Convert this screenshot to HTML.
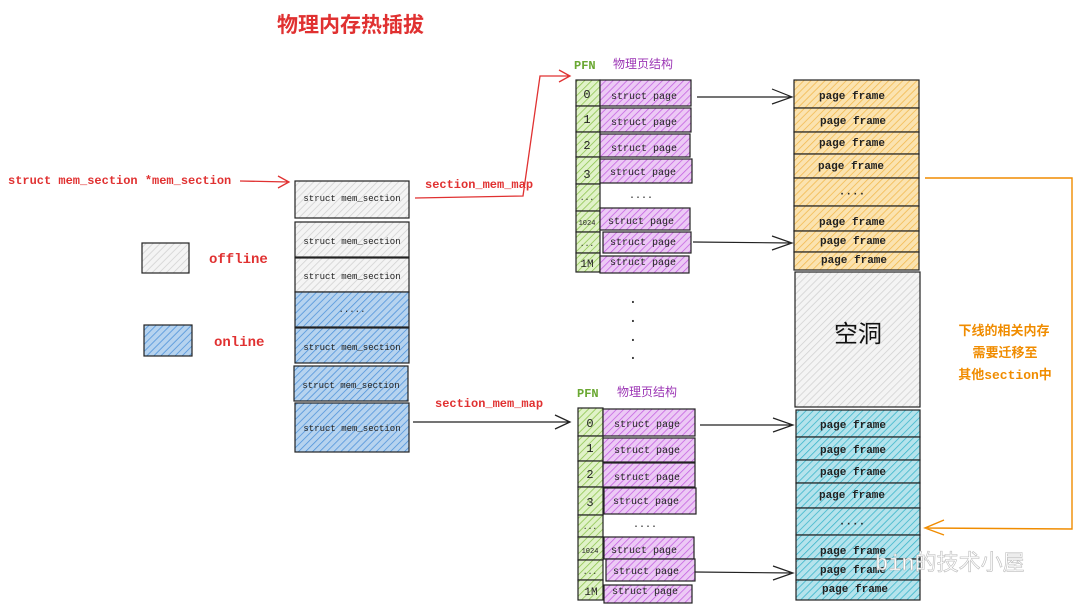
<!DOCTYPE html>
<html><head><meta charset="utf-8"><style>
html,body{margin:0;padding:0;background:#fff;width:1080px;height:611px;overflow:hidden}
svg text{font-family:"Liberation Mono","Noto Sans CJK SC",monospace}
</style></head><body>
<svg width="1080" height="611" viewBox="0 0 1080 611" xmlns="http://www.w3.org/2000/svg">
<defs>
<pattern id="hg" width="5" height="5" patternUnits="userSpaceOnUse" patternTransform="rotate(45)"><rect width="5" height="5" fill="#f4f4f4"/><line x1="0" y1="0" x2="0" y2="5" stroke="#d0d0d0" stroke-width="1.5"/></pattern>
<pattern id="hb" width="5" height="5" patternUnits="userSpaceOnUse" patternTransform="rotate(45)"><rect width="5" height="5" fill="#b6d3ef"/><line x1="0" y1="0" x2="0" y2="5" stroke="#4a90d9" stroke-width="1.5"/></pattern>
<pattern id="hgr" width="5" height="5" patternUnits="userSpaceOnUse" patternTransform="rotate(45)"><rect width="5" height="5" fill="#e0f2c8"/><line x1="0" y1="0" x2="0" y2="5" stroke="#8bc34a" stroke-width="1.5"/></pattern>
<pattern id="hp" width="5" height="5" patternUnits="userSpaceOnUse" patternTransform="rotate(45)"><rect width="5" height="5" fill="#ecc9f5"/><line x1="0" y1="0" x2="0" y2="5" stroke="#c35de0" stroke-width="1.5"/></pattern>
<pattern id="ho" width="5" height="5" patternUnits="userSpaceOnUse" patternTransform="rotate(45)"><rect width="5" height="5" fill="#fbe3b0"/><line x1="0" y1="0" x2="0" y2="5" stroke="#f2b84b" stroke-width="1.5"/></pattern>
<pattern id="hc" width="5" height="5" patternUnits="userSpaceOnUse" patternTransform="rotate(45)"><rect width="5" height="5" fill="#b5e3ec"/><line x1="0" y1="0" x2="0" y2="5" stroke="#36b3c9" stroke-width="1.5"/></pattern>
</defs>

<text x="277" y="32" font-size="21" fill="#e03131" font-weight="bold" font-family="Noto Sans CJK SC,sans-serif">物理内存热插拔</text>

<text x="8" y="184" font-size="12" font-weight="bold" fill="#e03131">struct mem_section *mem_section</text>
<g stroke="#e03131" stroke-width="1.3" fill="none"><path d="M240 181 L289 182 M278 176 L289 182 L278 188"/></g>

<g stroke="#222" stroke-width="1.2">
<rect x="295" y="181" width="114" height="37" fill="url(#hg)"/>
<rect x="295" y="222" width="114" height="35" fill="url(#hg)"/>
<rect x="295" y="258" width="114" height="34" fill="url(#hg)"/>
<rect x="295" y="292" width="114" height="35" fill="url(#hb)"/>
<rect x="295" y="328" width="114" height="35" fill="url(#hb)"/>
<rect x="294" y="366" width="114" height="35" fill="url(#hb)"/>
<rect x="295" y="403" width="114" height="49" fill="url(#hb)"/>
<rect x="142" y="243" width="47" height="30" fill="url(#hg)"/>
<rect x="144" y="325" width="48" height="31" fill="url(#hb)"/>
</g>
<g font-size="9" fill="#222" text-anchor="middle">
<text x="352" y="201">struct mem_section</text>
<text x="352" y="244">struct mem_section</text>
<text x="352" y="279">struct mem_section</text>
<text x="352" y="314">·····</text>
<text x="352" y="350">struct mem_section</text>
<text x="351" y="388">struct mem_section</text>
<text x="352" y="431">struct mem_section</text>
</g>
<text x="209" y="263" font-size="14" font-weight="bold" fill="#e03131">offline</text>
<text x="214" y="346" font-size="14" font-weight="bold" fill="#e03131">online</text>

<text x="425" y="188" font-size="12" font-weight="bold" fill="#e03131">section_mem_map</text>
<g stroke="#e03131" stroke-width="1.3" fill="none"><path d="M415 198 L523 196 L540 76 L570 76 M559 70 L570 76 L559 82"/></g>
<text x="435" y="407" font-size="12" font-weight="bold" fill="#e03131">section_mem_map</text>
<g stroke="#222" stroke-width="1.3" fill="none"><path d="M413 422 L570 422 M555 415 L570 422 L555 429"/></g>

<text x="574" y="69" font-size="12" font-weight="bold" fill="#6aa832" font-family="Liberation Sans,sans-serif">PFN</text>
<text x="613" y="68" font-size="12" fill="#9c36b5" font-family="Noto Sans CJK SC,sans-serif">物理页结构</text>
<g stroke="#222" stroke-width="1.2">
<rect x="576" y="80" width="24" height="26" fill="url(#hgr)"/><rect x="576" y="106" width="24" height="26" fill="url(#hgr)"/><rect x="576" y="132" width="24" height="25" fill="url(#hgr)"/><rect x="576" y="157" width="24" height="27" fill="url(#hgr)"/><rect x="576" y="184" width="24" height="27" fill="url(#hgr)"/><rect x="576" y="211" width="24" height="21" fill="url(#hgr)"/><rect x="576" y="232" width="24" height="21" fill="url(#hgr)"/><rect x="576" y="253" width="24" height="19" fill="url(#hgr)"/>
<rect x="600" y="80" width="91" height="26" fill="url(#hp)"/><rect x="600" y="108" width="91" height="24" fill="url(#hp)"/><rect x="600" y="134" width="90" height="23" fill="url(#hp)"/><rect x="600" y="159" width="92" height="24" fill="url(#hp)"/><rect x="600" y="208" width="90" height="22" fill="url(#hp)"/><rect x="603" y="232" width="88" height="21" fill="url(#hp)"/><rect x="600" y="256" width="89" height="17" fill="url(#hp)"/>
</g>
<g font-size="10" fill="#222" text-anchor="middle">
<text x="587" y="98" font-size="12">0</text><text x="587" y="123" font-size="12">1</text><text x="587" y="149" font-size="12">2</text><text x="587" y="178" font-size="12">3</text><text x="587" y="200" font-size="8">...</text><text x="587" y="225" font-size="7">1024</text><text x="587" y="246" font-size="8">...</text><text x="587" y="267" font-size="11">1M</text>
<text x="644" y="99">struct page</text><text x="644" y="125">struct page</text><text x="644" y="151">struct page</text><text x="643" y="175">struct page</text><text x="641" y="200">····</text><text x="641" y="224">struct page</text><text x="643" y="245">struct page</text><text x="643" y="265">struct page</text>
</g>

<g stroke="#222" stroke-width="1.2">
<rect x="794" y="80" width="125" height="28" fill="url(#ho)"/><rect x="794" y="108" width="125" height="24" fill="url(#ho)"/><rect x="794" y="132" width="125" height="22" fill="url(#ho)"/><rect x="794" y="154" width="125" height="24" fill="url(#ho)"/><rect x="794" y="178" width="125" height="28" fill="url(#ho)"/><rect x="794" y="206" width="125" height="25" fill="url(#ho)"/><rect x="794" y="231" width="125" height="21" fill="url(#ho)"/><rect x="794" y="252" width="125" height="18" fill="url(#ho)"/>
<rect x="795" y="272" width="125" height="135" fill="url(#hg)"/>
</g>
<g font-size="11" font-weight="bold" fill="#222" text-anchor="middle">
<text x="852" y="99">page frame</text><text x="853" y="124">page frame</text><text x="852" y="146">page frame</text><text x="851" y="169">page frame</text><text x="852" y="197">····</text><text x="852" y="225">page frame</text><text x="853" y="244">page frame</text><text x="854" y="263">page frame</text>
</g>
<text x="858" y="342" font-size="24" fill="#111" text-anchor="middle" font-family="Noto Sans CJK SC,sans-serif">空洞</text>

<g stroke="#222" stroke-width="1.2" fill="none">
<path d="M697 97 L792 97 M772 89 L792 97 L772 104"/>
<path d="M693 242 L792 243 M772 236 L792 243 L772 250"/>
<path d="M700 425 L793 425 M773 418 L793 425 L773 432"/>
<path d="M695 572 L793 573 M773 566 L793 573 L773 580"/>
</g>

<g fill="#222" font-size="14" text-anchor="middle"><text x="633" y="306">·</text><text x="633" y="325">·</text><text x="633" y="344">·</text><text x="633" y="362">·</text></g>

<text x="577" y="397" font-size="12" font-weight="bold" fill="#6aa832" font-family="Liberation Sans,sans-serif">PFN</text>
<text x="617" y="396" font-size="12" fill="#9c36b5" font-family="Noto Sans CJK SC,sans-serif">物理页结构</text>
<g stroke="#222" stroke-width="1.2">
<rect x="578" y="408" width="25" height="28" fill="url(#hgr)"/><rect x="578" y="436" width="25" height="25" fill="url(#hgr)"/><rect x="578" y="461" width="25" height="26" fill="url(#hgr)"/><rect x="578" y="487" width="25" height="28" fill="url(#hgr)"/><rect x="578" y="515" width="25" height="22" fill="url(#hgr)"/><rect x="578" y="537" width="25" height="23" fill="url(#hgr)"/><rect x="578" y="560" width="25" height="20" fill="url(#hgr)"/><rect x="578" y="580" width="25" height="20" fill="url(#hgr)"/>
<rect x="603" y="409" width="92" height="27" fill="url(#hp)"/><rect x="603" y="438" width="92" height="24" fill="url(#hp)"/><rect x="603" y="463" width="92" height="24" fill="url(#hp)"/><rect x="604" y="488" width="92" height="26" fill="url(#hp)"/><rect x="604" y="537" width="90" height="22" fill="url(#hp)"/><rect x="606" y="559" width="89" height="22" fill="url(#hp)"/><rect x="604" y="585" width="88" height="18" fill="url(#hp)"/>
</g>
<g font-size="10" fill="#222" text-anchor="middle">
<text x="590" y="427" font-size="12">0</text><text x="590" y="452" font-size="12">1</text><text x="590" y="478" font-size="12">2</text><text x="590" y="506" font-size="12">3</text><text x="590" y="529" font-size="8">...</text><text x="590" y="553" font-size="7">1024</text><text x="590" y="574" font-size="8">...</text><text x="591" y="595" font-size="11">1M</text>
<text x="647" y="427">struct page</text><text x="647" y="453">struct page</text><text x="647" y="480">struct page</text><text x="646" y="504">struct page</text><text x="645" y="529">····</text><text x="644" y="553">struct page</text><text x="646" y="574">struct page</text><text x="645" y="594">struct page</text>
</g>

<g stroke="#222" stroke-width="1.2">
<rect x="796" y="410" width="124" height="27" fill="url(#hc)"/><rect x="796" y="437" width="124" height="23" fill="url(#hc)"/><rect x="796" y="460" width="124" height="23" fill="url(#hc)"/><rect x="796" y="483" width="124" height="25" fill="url(#hc)"/><rect x="796" y="508" width="124" height="27" fill="url(#hc)"/><rect x="796" y="535" width="124" height="24" fill="url(#hc)"/><rect x="796" y="559" width="124" height="21" fill="url(#hc)"/><rect x="796" y="580" width="124" height="20" fill="url(#hc)"/>
</g>
<g font-size="11" font-weight="bold" fill="#222" text-anchor="middle">
<text x="853" y="428">page frame</text><text x="853" y="453">page frame</text><text x="853" y="475">page frame</text><text x="852" y="498">page frame</text><text x="852" y="527">····</text><text x="853" y="554">page frame</text><text x="853" y="573">page frame</text><text x="855" y="592">page frame</text>
</g>
<text x="875" y="570" font-size="22" fill="#fff" stroke="#bbb" stroke-width="0.6" font-family="Noto Sans CJK SC,sans-serif">bin的技术小屋</text>

<g stroke="#f08c00" stroke-width="1.4" fill="none">
<path d="M925 178 L1072 178 L1072 529 L925 528 M944 520 L925 528 L944 535"/>
</g>
<g font-size="13" fill="#f08c00" text-anchor="middle" font-family="Liberation Sans,Noto Sans CJK SC,sans-serif" font-weight="bold">
<text x="1004" y="335">下线的相关内存</text><text x="1005" y="357">需要迁移至</text><text x="1005" y="379">其他section中</text>
</g>
</svg>
</body></html>
